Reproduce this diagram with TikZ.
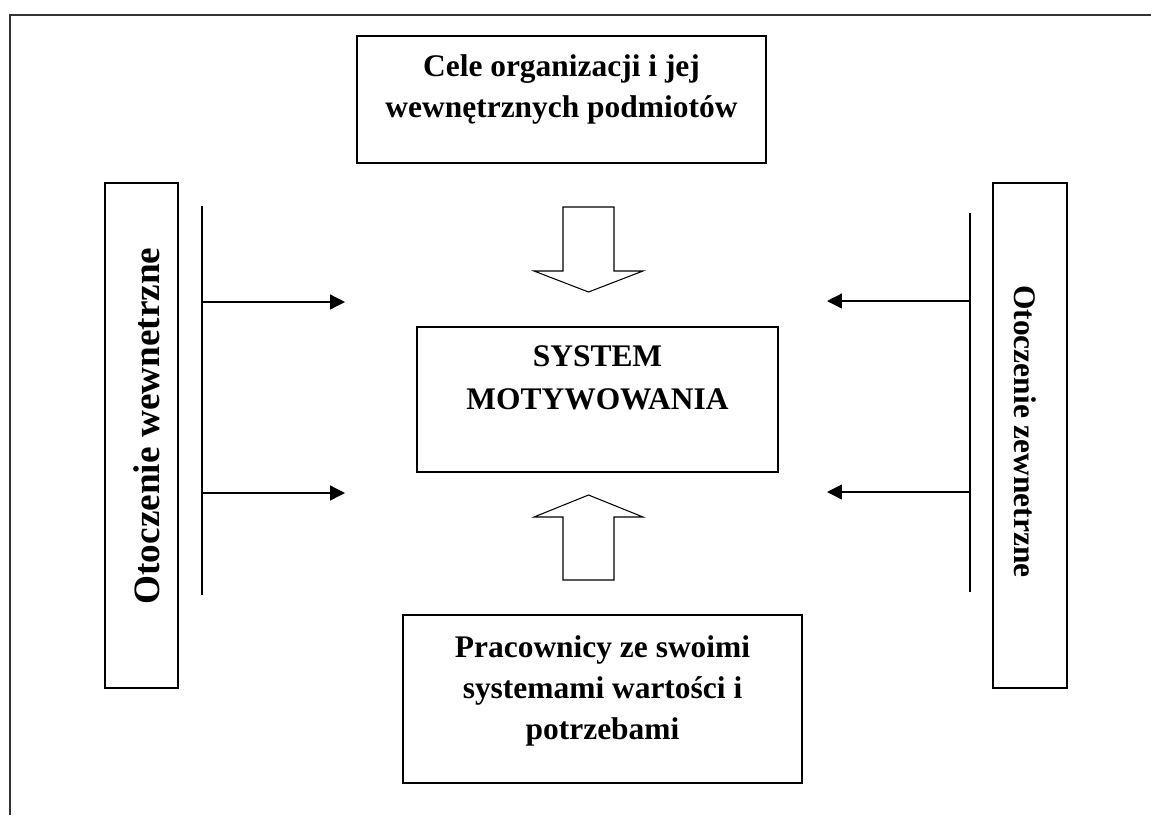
\documentclass[tikz,border=0pt]{standalone}
\usepackage{fontspec}
\setmainfont{Liberation Serif}
\usepackage{tikz}
\usetikzlibrary{positioning, arrows.meta}
\tikzset{
    x=0.02cm, y=-0.02cm, % one unit is one pixel of the scan, y runs downwards
    box/.style={draw, line width=0.8pt, inner sep=0pt}, % the plain rectangles
    boxtext/.style={align=center, inner sep=0pt}, % the bold text inside a rectangle
    sidetext/.style={inner sep=0pt}, % the turned text of the two side boxes
    rail/.style={line width=0.75pt}, % the vertical bars beside the side boxes
    feed/.style={line width=0.75pt, -{Triangle[length=8.5pt, width=8.5pt]}}, % the thin arrows
    hollow/.style={draw, line width=0.6pt, fill=white}, % the open block arrows
}

\begin{document}
\begin{tikzpicture}
    \useasboundingbox (0,0) rectangle (1151,815);
    \draw[line width=0.85pt, black!80] (10,815) -- (10,15) -- (1151,15);
    \node[box, minimum width=8.18cm, minimum height=2.54cm] (cele) at (561.5,99.5) {};
    \node[boxtext, font=\bfseries\fontsize{17.9pt}{22.8pt}\selectfont, below=0.39cm of cele.north] (celetxt) {Cele organizacji i jej\\wewnętrznych podmiotów};
    \node[box, minimum width=7.22cm, minimum height=2.9cm] (sys) at (597.5,399.5) {};
    \node[boxtext, font=\bfseries\fontsize{17.9pt}{24.5pt}\selectfont, below=0.38cm of sys.north] (systxt) {SYSTEM\\MOTYWOWANIA};
    \node[box, minimum width=7.98cm, minimum height=3.36cm] (prac) at (602.5,699) {};
    \node[boxtext, font=\bfseries\fontsize{17.9pt}{23.3pt}\selectfont, below=0.42cm of prac.north] (practxt) {Pracownicy ze swoimi\\systemami wartości i\\potrzebami};
    \node[box, minimum width=1.46cm, minimum height=10.1cm] (inner) at (141.5,435.5) {};
    \node[sidetext, rotate=90, font=\bfseries\fontsize{21.2pt}{24pt}\selectfont] (innertxt) at (147,426) {Otoczenie wewnetrzne};
    \node[box, minimum width=1.48cm, minimum height=10.1cm] (outer) at (1030,435.5) {};
    \node[sidetext, rotate=-90, font=\bfseries\fontsize{17.9pt}{21pt}\selectfont] (outertxt) at (1025,431.5) {Otoczenie zewnetrzne};
    \coordinate (lefttop) at (202,206);
    \coordinate (leftbot) at (202,595);
    \coordinate (righttop) at (970,213);
    \coordinate (rightbot) at (970,592);
    \draw[rail] (lefttop) -- (leftbot);
    \draw[rail] (righttop) -- (rightbot);
    \coordinate (la) at (202,302);
    \coordinate (lae) at (345,302);
    \coordinate (lb) at (202,493);
    \coordinate (lbe) at (345,493);
    \coordinate (ra) at (970,301);
    \coordinate (rae) at (827,301);
    \coordinate (rb) at (970,492);
    \coordinate (rbe) at (827,492);
    \draw[feed] (la) -- (lae);
    \draw[feed] (lb) -- (lbe);
    \draw[feed] (ra) -- (rae);
    \draw[feed] (rb) -- (rbe);
    \coordinate (downtip) at (588.5,292);
    \coordinate (uptip) at (588.5,495);
    \draw[hollow] (563,207) -- (614,207) -- (614,271) -- (643,271) -- (downtip) -- (534,271) -- (563,271) -- cycle;
    \draw[hollow] (563,580) -- (614,580) -- (614,517) -- (643,517) -- (uptip) -- (534,517) -- (563,517) -- cycle;
\end{tikzpicture}
\end{document}
